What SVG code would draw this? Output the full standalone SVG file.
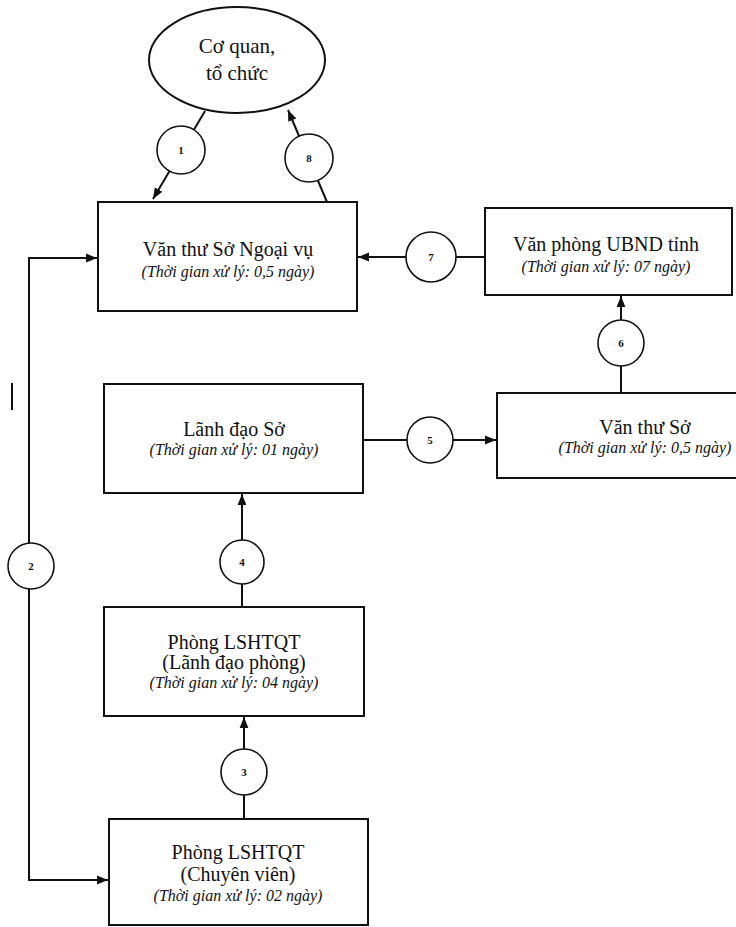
<svg xmlns="http://www.w3.org/2000/svg" width="736" height="927" viewBox="0 0 736 927">
<defs>
<marker id="arr" viewBox="0 0 10 10" refX="10" refY="5" markerWidth="11" markerHeight="11" markerUnits="userSpaceOnUse" orient="auto-start-reverse">
<path d="M0,1 L10,5 L0,9 Z" fill="#111"/>
</marker>
<style>
.box{fill:#fff;stroke:#111;stroke-width:2}
.circ{fill:#fff;stroke:#111;stroke-width:1.6}
.ln{fill:none;stroke:#111;stroke-width:2}
.t{font-family:"Liberation Serif","Times New Roman",serif;font-size:20px;fill:#111;text-anchor:middle}
.i{font-family:"Liberation Serif","Times New Roman",serif;font-size:16px;font-style:italic;fill:#111;text-anchor:middle}
.e{font-family:"Liberation Serif","Times New Roman",serif;font-size:21px;fill:#111;text-anchor:middle}
.n{font-family:"Liberation Serif","Times New Roman",serif;font-size:11px;font-weight:bold;fill:#111;text-anchor:middle}
</style>
</defs>
<rect width="736" height="927" fill="#fff"/>
<g id="connectors">
<line class="ln" x1="205" y1="111" x2="153" y2="199" marker-end="url(#arr)"/>
<line class="ln" x1="327" y1="202" x2="288" y2="110" marker-end="url(#arr)"/>
<path class="ln" d="M97,258 H29 V880 H108" marker-start="url(#arr)" marker-end="url(#arr)"/>
<line class="ln" x1="485" y1="257" x2="358" y2="257" marker-end="url(#arr)"/>
<line class="ln" x1="621" y1="393" x2="621" y2="296" marker-end="url(#arr)"/>
<line class="ln" x1="364" y1="440" x2="496" y2="440" marker-end="url(#arr)"/>
<line class="ln" x1="242" y1="607" x2="242" y2="494" marker-end="url(#arr)"/>
<line class="ln" x1="244" y1="819" x2="244" y2="717" marker-end="url(#arr)"/>
<line class="ln" x1="12" y1="383" x2="12" y2="410"/>
</g>
<g id="n-coquan">
<ellipse class="box" cx="237" cy="60" rx="88" ry="53"/>
<text class="e" x="237" y="53">Cơ quan,</text>
<text class="e" x="237" y="80">tổ chức</text>
</g>
<g id="n-vanthungoaivu">
<rect class="box" x="98" y="202" width="259" height="109"/>
<text class="t" x="228" y="256">Văn thư Sở Ngoại vụ</text>
<text class="i" x="228" y="277">(Thời gian xử lý: 0,5 ngày)</text>
</g>
<g id="n-ubnd">
<rect class="box" x="485" y="208" width="247" height="87"/>
<text class="t" x="606" y="251">Văn phòng UBND tỉnh</text>
<text class="i" x="606" y="272">(Thời gian xử lý: 07 ngày)</text>
</g>
<g id="n-vanthuso">
<rect class="box" x="497" y="393" width="300" height="85"/>
<text class="t" x="645" y="434">Văn thư Sở</text>
<text class="i" x="645" y="453">(Thời gian xử lý: 0,5 ngày)</text>
</g>
<g id="n-lanhdaoso">
<rect class="box" x="104" y="384" width="259" height="109"/>
<text class="t" x="234" y="436">Lãnh đạo Sở</text>
<text class="i" x="234" y="455">(Thời gian xử lý: 01 ngày)</text>
</g>
<g id="n-lanhdaophong">
<rect class="box" x="104" y="607" width="260" height="109"/>
<text class="t" x="234" y="649">Phòng LSHTQT</text>
<text class="t" x="234" y="669">(Lãnh đạo phòng)</text>
<text class="i" x="234" y="688">(Thời gian xử lý: 04 ngày)</text>
</g>
<g id="n-chuyenvien">
<rect class="box" x="109" y="819" width="259" height="106"/>
<text class="t" x="238" y="859">Phòng LSHTQT</text>
<text class="t" x="238" y="881">(Chuyên viên)</text>
<text class="i" x="238" y="901">(Thời gian xử lý: 02 ngày)</text>
</g>
<g id="steps">
<g id="s1"><circle class="circ" cx="181" cy="150" r="24"/><text class="n" x="181" y="154">1</text></g>
<g id="s8"><circle class="circ" cx="309" cy="158" r="24"/><text class="n" x="309" y="162">8</text></g>
<g id="s7"><circle class="circ" cx="431" cy="257" r="25"/><text class="n" x="431" y="261">7</text></g>
<g id="s6"><circle class="circ" cx="621" cy="343" r="23"/><text class="n" x="621" y="347">6</text></g>
<g id="s5"><circle class="circ" cx="430" cy="440" r="23"/><text class="n" x="430" y="444">5</text></g>
<g id="s4"><circle class="circ" cx="242" cy="562" r="22"/><text class="n" x="242" y="566">4</text></g>
<g id="s2"><circle class="circ" cx="31" cy="566" r="23"/><text class="n" x="31" y="570">2</text></g>
<g id="s3"><circle class="circ" cx="244" cy="772" r="23"/><text class="n" x="244" y="776">3</text></g>
</g>
</svg>
